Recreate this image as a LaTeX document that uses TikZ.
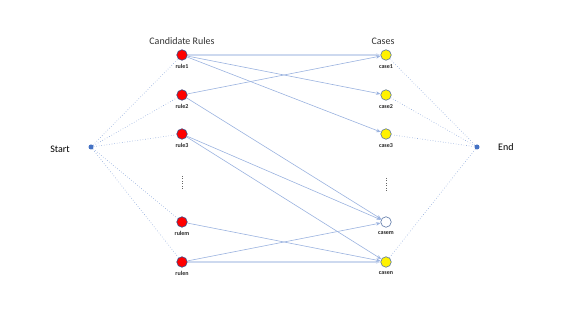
\documentclass[tikz,border=0pt]{standalone}
\usepackage{fontspec}
\setmainfont{Carlito}
\usepackage{tikz}
\usetikzlibrary{arrows.meta, positioning}

\definecolor{edgeblue}{HTML}{8FAADC}
\definecolor{ringblue}{HTML}{2F528F}
\definecolor{dotblue}{HTML}{4472C4}

\tikzset{
  rulenode/.style={circle, draw=ringblue, line width=0.6pt, fill=red,
    minimum size=10.5pt, inner sep=0pt},
  casenode/.style={circle, draw=ringblue!80, line width=0.6pt, fill=yellow,
    minimum size=10.5pt, inner sep=0pt},
  endnode/.style={circle, fill=dotblue, minimum size=5pt, inner sep=0pt},
  tag/.style={font=\fontsize{6}{7}\selectfont\bfseries, text=black!85},
  link/.style={->, edgeblue!90, line width=0.6pt},
  flat/.style={->, edgeblue!45, line width=1.6pt},
  fan/.style={edgeblue, line width=0.6pt, dotted},
}

\begin{document}
\begin{tikzpicture}[x=1pt, y=-1pt, >={Stealth[length=4.5pt, width=3.5pt]},
    font=\fontsize{10}{12}\selectfont]
  \useasboundingbox (0,0) rectangle (568,320);
  % Start and End
  \node[endnode] (start) at (91,147) {};
  \node[left=15pt of start, yshift=-2pt] (starttxt) {Start};
  \node[endnode] (stop) at (477,147) {};
  \node[right=15pt of stop] (stoptxt) {End};
  % Candidate rules
  \node[text=black!80] (ruletitle) at (182,41) {Candidate Rules};
  \foreach \n/\y in {1/55, 2/95, 3/134, m/222, n/262}
    \node[rulenode, label={[tag, yshift=-0.5pt]below:rule\n}] (r\n) at (182,\y) {};
  % Cases
  \node[text=black!80] (casetitle) at (383,41) {Cases};
  \foreach \n/\y in {1/55, 2/95, 3/134, n/262}
    \node[casenode, label={[tag, yshift=-0.5pt]below:case\n}] (c\n) at (386,\y) {};
  \node[casenode, fill=white, label={[tag, yshift=-0.5pt]below:casem}] (cm) at (386,222) {};
  % vertical ellipses
  \draw[dotted, black!60, line width=0.5pt] (182,176) -- (182,190);
  \draw[dotted, black!60, line width=0.5pt] (386,178) -- (386,192);
  % Start / End fans
  \foreach \n in {1,2,3,m,n}
    \draw[fan] (start) -- (r\n);
  \foreach \n in {1,2,3,n}
    \draw[fan] (c\n) -- (stop);
  % rule -> case links
  \draw[flat] (r1) -- (c1);
  \draw[flat] (rn) -- (cn);
  \foreach \a/\b in {1/2, 1/3, 2/1, 2/m, 3/m, 3/n, m/n, n/m}
    \draw[link] (r\a) -- (c\b);
\end{tikzpicture}
\end{document}
